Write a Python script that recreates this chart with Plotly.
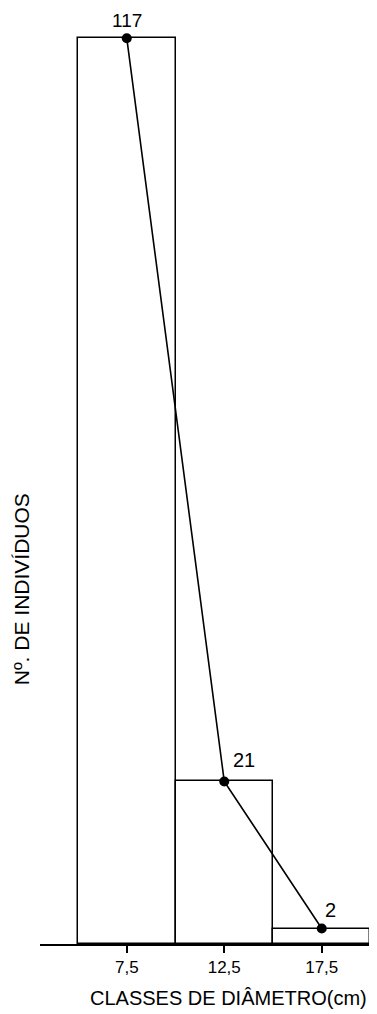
import plotly.graph_objects as go

# Data
class_centers = [7.5, 12.5, 17.5]
tick_labels = ["7,5", "12,5", "17,5"]
counts = [117, 21, 2]
count_labels = ["117", "21", "2"]
class_width = 5

label_dx = [0, 20, 9]
label_dy = [-18, -21, -19]
label_size = [19, 20, 20]

FONT = "Liberation Sans"

fig = go.Figure()
fig.add_trace(go.Bar(
    x=class_centers, y=counts, width=[class_width] * len(counts),
    marker=dict(color="white", line=dict(color="black", width=1.5)),
    hoverinfo="skip", showlegend=False,
))
fig.add_trace(go.Scatter(
    x=class_centers, y=counts, mode="lines+markers",
    line=dict(color="black", width=1.6),
    marker=dict(color="black", size=10),
    showlegend=False,
))

for xc, yc, t, dx, dy, fs in zip(class_centers, counts, count_labels, label_dx, label_dy, label_size):
    fig.add_annotation(x=xc, y=yc, text=t, showarrow=False, xshift=dx, yshift=-dy,
                       borderpad=0,
                       font=dict(family=FONT, size=fs, color="black"))

fig.add_annotation(xref="paper", yref="paper", x=0.563, y=-0.0577, text="CLASSES DE DIÂMETRO(cm)",
                   showarrow=False, xanchor="center", yanchor="middle",
                   font=dict(family=FONT, size=20, color="black"))
fig.add_annotation(xref="paper", yref="paper", x=-0.057, y=0.379, text="Nº. DE INDIVÍDUOS",
                   showarrow=False, textangle=-90, xanchor="center", yanchor="middle",
                   font=dict(family=FONT, size=21, color="black"))

fig.update_layout(
    width=369, height=1006,
    margin=dict(l=32, r=3, t=0, b=70),
    paper_bgcolor="white", plot_bgcolor="white",
    bargap=0,
    xaxis=dict(range=[3.05, 20.18], showgrid=False, zeroline=False,
               showline=True, linecolor="black", linewidth=1.5,
               tickmode="array", tickvals=class_centers, ticktext=tick_labels,
               ticks="outside", ticklen=7, tickcolor="black", tickwidth=1.5,
               tickfont=dict(family=FONT, size=17, color="black")),
    yaxis=dict(range=[0, 120.9], visible=False),
)

fig.write_html("out.html")
